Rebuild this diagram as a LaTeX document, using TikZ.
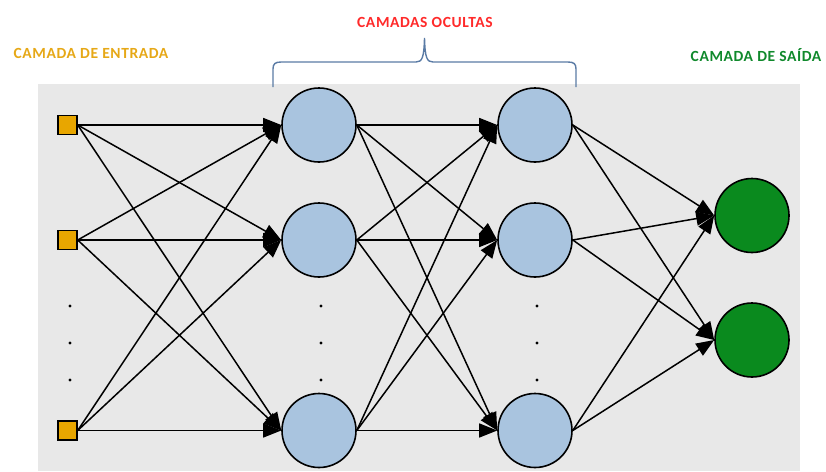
\documentclass[tikz,border=0pt]{standalone}
\usepackage{fontspec}
\setmainfont{Carlito}
\usetikzlibrary{arrows.meta}
\definecolor{bggray}{HTML}{E8E8E8}
\definecolor{inorange}{HTML}{E8A600}
\definecolor{txtorange}{HTML}{E6A817}
\definecolor{hidblue}{HTML}{A9C4DF}
\definecolor{outgreen}{HTML}{0A8A1E}
\definecolor{txtgreen}{HTML}{10892C}
\definecolor{txtred}{HTML}{FF2A2A}
\definecolor{bracecol}{HTML}{5A7BA5}
\tikzset{
  inbox/.style={draw=black, line width=1.4pt, fill=inorange, minimum size=19pt, inner sep=0pt},
  hidden/.style={circle, draw=black, line width=1.6pt, fill=hidblue, minimum size=74pt, inner sep=0pt},
  outnode/.style={circle, draw=black, line width=1.6pt, fill=outgreen, minimum size=74pt, inner sep=0pt},
  conn/.style={line width=1.5pt, -{Triangle[length=18pt,width=14pt]}},
  vdot/.style={circle, fill=black, minimum size=3.4pt, inner sep=0pt},
  layerlabel/.style={font=\addfontfeatures{LetterSpace=4}\fontsize{15.5}{18}\selectfont\bfseries, inner sep=0pt}
}
\begin{document}
\begin{tikzpicture}[x=1pt,y=-1pt]
\useasboundingbox (0,0) rectangle (826,471);
\fill[bggray] (38,84) rectangle (800,471);

% labels
\node[layerlabel, text=txtorange] (lin) at (91,53) {CAMADA DE ENTRADA};
\node[layerlabel, text=txtred] (lhid) at (425,22) {CAMADAS OCULTAS};
\node[layerlabel, text=txtgreen] (lout) at (756,55) {CAMADA DE SAÍDA};

% brace
\draw[bracecol, line width=1.4pt] (273,87) -- (273,69) .. controls (273,64) and (275,62) .. (281,62) -- (416,62) .. controls (422,62) and (424,58) .. (424.5,38) .. controls (425,58) and (427,62) .. (433,62) -- (568,62) .. controls (574,62) and (576,64) .. (576,69) -- (576,87);

% input
\node[inbox] (i1) at (67.5,125) {};
\node[inbox] (i2) at (67.5,240) {};
\node[inbox] (i3) at (67.5,430.5) {};
% hidden 1
\node[hidden] (a1) at (319,125) {};
\node[hidden] (a2) at (319,240) {};
\node[hidden] (a3) at (319,430.5) {};
% hidden 2
\node[hidden] (b1) at (535,125) {};
\node[hidden] (b2) at (535,240) {};
\node[hidden] (b3) at (535,430.5) {};
% output
\node[outnode] (o1) at (752,215.5) {};
\node[outnode] (o2) at (752,340) {};

% dots
\foreach \x/\n in {70/d, 321/e, 537/f}{
  \node[vdot] (\n1) at (\x,306) {};
  \node[vdot] (\n2) at (\x,343) {};
  \node[vdot] (\n3) at (\x,380) {};
}

% connections
\foreach \s in {i1,i2,i3}{
  \foreach \t in {a1,a2,a3}{
    \draw[conn] (\s.east) -- (\t.west);
  }
}
\foreach \s in {a1,a2,a3}{
  \foreach \t in {b1,b2,b3}{
    \draw[conn] (\s.east) -- (\t.west);
  }
}
\foreach \s in {b1,b2,b3}{
  \foreach \t in {o1,o2}{
    \draw[conn] (\s.east) -- (\t.west);
  }
}
\end{tikzpicture}
\end{document}
